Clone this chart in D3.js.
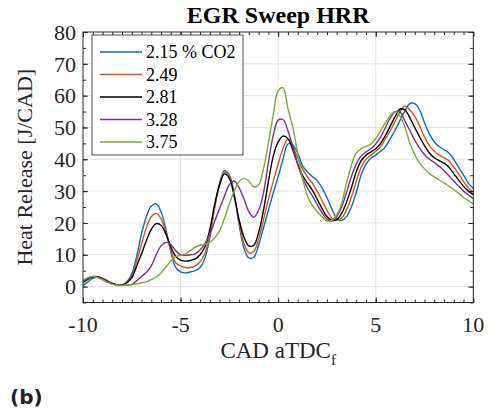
<!DOCTYPE html>
<html>
<head>
<meta charset="utf-8">
<script src="https://cdn.jsdelivr.net/npm/d3@7"></script>
<style>
	body { margin: 0; background: #fff; }
	svg { display: block; }
</style>
</head>
<body>
<div id="chart"></div>
<script>

// crank angle grid (CAD aTDC)
var cad = [-10, -9.75, -9.5, -9.25, -9, -8.75, -8.5, -8.25, -8, -7.75,
	-7.5, -7.25, -7, -6.75, -6.5, -6.25, -6, -5.75, -5.5, -5.25,
	-5, -4.75, -4.5, -4.25, -4, -3.75, -3.5, -3.25, -3, -2.75,
	-2.5, -2.25, -2, -1.75, -1.5, -1.25, -1, -0.75, -0.5, -0.25,
	0, 0.25, 0.5, 0.75, 1, 1.25, 1.5, 1.75, 2, 2.25,
	2.5, 2.75, 3, 3.25, 3.5, 3.75, 4, 4.25, 4.5, 4.75,
	5, 5.25, 5.5, 5.75, 6, 6.25, 6.5, 6.75, 7, 7.25,
	7.5, 7.75, 8, 8.25, 8.5, 8.75, 9, 9.25, 9.5, 9.75, 10];

var labels = ["2.15 % CO2", "2.49", "2.81", "3.28", "3.75"];
var colors = ["#0072BD", "#D95319", "#000000", "#7E2F8E", "#77AC30"];

// heat release rate [J/CAD]
var hrr215 = [0.3, 1.5, 2.6, 2.9, 2.6, 1.8, 0.9, 0.4, 0.4, 1.5,
	4, 9.5, 16.6, 22, 25.3, 26, 23.5, 18, 11, 6,
	4.6, 4.3, 4.6, 5, 6, 9, 15.5, 25, 32.5, 36.4,
	35, 29, 19.5, 12, 9, 9.2, 13, 18.5, 24, 29.5,
	34.5, 40, 44.8, 44.5, 42, 38, 36, 34.6, 33.3, 31,
	28, 24.5, 21.5, 20.8, 22, 25, 29.5, 35, 38.5, 40.3,
	41.3, 42.5, 44, 46.5, 49.2, 52.3, 55.3, 57.5, 57.5, 55.5,
	51.5, 48, 45.5, 44, 43, 42, 40, 37.5, 35, 32.5, 30.8];
var hrr249 = [1.2, 2.2, 3, 3.1, 2.6, 1.8, 1, 0.5, 0.5, 1.3,
	3.2, 8, 13.4, 18.5, 22, 23, 21.3, 17, 11.5, 7.5,
	6.5, 6, 6, 6.5, 7.8, 10.5, 16, 25, 32, 36,
	34.5, 28.5, 20, 13.5, 10.6, 11, 15, 21, 27.5, 33,
	38.5, 43.5, 46.4, 44, 40.5, 37, 34.5, 32.5, 30, 27,
	24, 21.5, 20.8, 21.5, 24, 28, 33, 37.5, 40, 41.3,
	42.5, 44, 46.5, 49, 52, 55, 56.8, 55.5, 53.5, 50.5,
	47, 44.3, 42.5, 41.3, 40.5, 39.5, 37.5, 35.5, 33, 31, 29.7];
var hrr281 = [1.4, 2.4, 3.1, 3.1, 2.5, 1.7, 1, 0.5, 0.5, 1.2,
	2.8, 6.5, 10.3, 14.5, 18, 19.8, 19.3, 16.5, 12.5, 9.5,
	8.3, 8, 8.2, 8.7, 10, 12.5, 18, 26, 32, 35.4,
	34, 28.5, 21, 15.5, 12.8, 13, 17, 24, 33, 41,
	45.5, 47.3, 46.5, 43, 38.5, 35, 32.5, 30.3, 27.5, 24.5,
	22, 20.8, 21, 23, 26.5, 31, 36, 39.5, 41.3, 42.3,
	43.3, 45, 47.5, 50.5, 53.5, 55.8, 55.5, 53, 50, 47,
	44.3, 42, 40.5, 39.6, 38.8, 37.5, 35.5, 33.5, 31.5, 30, 28.9];
var hrr328 = [1.8, 2.6, 3.2, 3, 2.4, 1.6, 0.9, 0.5, 0.4, 0.4,
	0.7, 1.8, 3.2, 4.5, 6.5, 10, 12.8, 13.9, 13.2, 11.3,
	10, 9.8, 10, 10.3, 11.5, 13.5, 16.5, 20.5, 24.5, 28.5,
	32, 33.2, 31, 27.5, 23.5, 21.8, 24, 29.5, 39, 47.5,
	52.3, 52.5, 49, 44, 38.5, 34, 31, 28.5, 25.8, 23.2,
	21.2, 20.6, 22, 25, 29.5, 34.5, 38.5, 41, 42.3, 43.3,
	44.8, 47, 50, 53, 55, 54.8, 52, 49, 46, 43.5,
	41.5, 40, 39, 37.8, 36.5, 34.8, 33.2, 31.5, 30, 28.8, 27.6];
var hrr375 = [2, 2.8, 3.2, 2.8, 2.1, 1.3, 0.7, 0.4, 0.4, 0.5,
	0.6, 0.8, 1.2, 1.5, 2.2, 3, 4.3, 6.2, 8, 9.4,
	9.8, 10.3, 11.3, 12.4, 13, 13.3, 14, 15.3, 17.5, 21.5,
	26, 30, 33, 34, 33.2, 31.3, 32, 37, 45, 54,
	61.5, 62.5, 56, 50, 42, 34, 28.5, 25.5, 23.5, 22,
	20.6, 20.8, 22.5, 26, 32.5, 38, 42, 43.3, 44, 44.8,
	46.5, 49, 51.5, 53.8, 55, 53.5, 50, 45, 41.5, 38.8,
	37, 35.5, 34.5, 33.5, 32.6, 31.5, 30.5, 29.3, 28, 27, 26];

var series = [hrr215, hrr249, hrr281, hrr328, hrr375];

var xTicks = [-10, -5, 0, 5, 10];
var yTicks = [0, 10, 20, 30, 40, 50, 60, 70, 80];

var width = 494;
var height = 417;
var plotL = 83, plotR = 473.3, plotT = 32, plotB = 302.5;
var axisColor = "#262626";
var serif = "Liberation Serif, Times New Roman, serif";

var svg = d3.select("#chart").append("svg")
	.attr("width", width)
	.attr("height", height);

svg.append("rect")
	.attr("width", width)
	.attr("height", height)
	.attr("fill", "#fff");

var x = d3.scaleLinear().domain([-10, 10]).range([plotL, plotR]);
var y = d3.scaleLinear().domain([-5, 80]).range([plotB, plotT]);

// grid
svg.append("g").selectAll("line")
	.data(xTicks.slice(1, -1))
	.enter().append("line")
	.attr("x1", function(d) { return x(d); })
	.attr("x2", function(d) { return x(d); })
	.attr("y1", plotT).attr("y2", plotB)
	.attr("stroke", "#e3e3e3").attr("stroke-width", 1);

svg.append("g").selectAll("line")
	.data(yTicks.slice(0, -1))
	.enter().append("line")
	.attr("y1", function(d) { return y(d); })
	.attr("y2", function(d) { return y(d); })
	.attr("x1", plotL).attr("x2", plotR)
	.attr("stroke", "#e3e3e3").attr("stroke-width", 1);

// curves
var line = d3.line()
	.x(function(d, i) { return x(cad[i]); })
	.y(function(d) { return y(d); })
	.curve(d3.curveCatmullRom.alpha(0.5));

svg.append("g").selectAll("path")
	.data(series)
	.enter().append("path")
	.attr("d", line)
	.attr("fill", "none")
	.attr("stroke", function(d, i) { return colors[i]; })
	.attr("stroke-width", 1.4);

// axes with inward ticks, mirrored on top/right
var xMinor = d3.range(-10, 10.01, 0.5);
var yMinor = d3.range(-5, 80.01, 5);

function ticks(axis, values, size) {
	return axis.tickValues(values).tickSize(size).tickFormat("");
}

svg.append("g").attr("transform", "translate(0," + plotB + ")")
	.call(ticks(d3.axisTop(x), xMinor, 3));
svg.append("g").attr("transform", "translate(0," + plotB + ")")
	.call(ticks(d3.axisTop(x), xTicks, 5));
svg.append("g").attr("transform", "translate(0," + plotT + ")")
	.call(ticks(d3.axisBottom(x), xMinor, 3));
svg.append("g").attr("transform", "translate(0," + plotT + ")")
	.call(ticks(d3.axisBottom(x), xTicks, 5));
svg.append("g").attr("transform", "translate(" + plotL + ",0)")
	.call(ticks(d3.axisRight(y), yMinor, 3));
svg.append("g").attr("transform", "translate(" + plotL + ",0)")
	.call(ticks(d3.axisRight(y), yTicks, 5));
svg.append("g").attr("transform", "translate(" + plotR + ",0)")
	.call(ticks(d3.axisLeft(y), yMinor, 3));
svg.append("g").attr("transform", "translate(" + plotR + ",0)")
	.call(ticks(d3.axisLeft(y), yTicks, 5));

svg.selectAll(".domain").remove();
svg.selectAll(".tick line").attr("stroke", axisColor);

svg.append("rect")
	.attr("x", plotL).attr("y", plotT)
	.attr("width", plotR - plotL).attr("height", plotB - plotT)
	.attr("fill", "none")
	.attr("stroke", axisColor)
	.attr("stroke-width", 1);

// tick labels
svg.append("g").selectAll("text")
	.data(xTicks)
	.enter().append("text")
	.attr("x", function(d) { return x(d); })
	.attr("y", plotB + 29)
	.attr("text-anchor", "middle")
	.attr("font-family", serif)
	.attr("font-size", 22)
	.attr("fill", axisColor)
	.text(function(d) { return d; });

svg.append("g").selectAll("text")
	.data(yTicks)
	.enter().append("text")
	.attr("x", plotL - 7)
	.attr("y", function(d) { return y(d); })
	.attr("dy", "0.35em")
	.attr("text-anchor", "end")
	.attr("font-family", serif)
	.attr("font-size", 22)
	.attr("fill", axisColor)
	.text(function(d) { return d; });

// axis labels and title
var xl = svg.append("text")
	.attr("x", (plotL + plotR) / 2)
	.attr("y", 358)
	.attr("text-anchor", "middle")
	.attr("font-family", serif)
	.attr("font-size", 23)
	.attr("fill", axisColor);
xl.append("tspan").text("CAD aTDC");
xl.append("tspan").attr("font-size", 15).attr("dy", 7).text("f");

svg.append("text")
	.attr("transform", "translate(32," + ((plotT + plotB) / 2) + ") rotate(-90)")
	.attr("text-anchor", "middle")
	.attr("font-family", serif)
	.attr("font-size", 22)
	.attr("fill", axisColor)
	.text("Heat Release [J/CAD]");

svg.append("text")
	.attr("x", (plotL + plotR) / 2)
	.attr("y", 22.5)
	.attr("text-anchor", "middle")
	.attr("font-family", serif)
	.attr("font-size", 24)
	.attr("font-weight", "bold")
	.attr("fill", "#000")
	.text("EGR Sweep HRR");

svg.append("text")
	.attr("x", 10)
	.attr("y", 404)
	.attr("font-family", "DejaVu Sans, sans-serif")
	.attr("font-size", 20)
	.attr("font-weight", "bold")
	.attr("fill", "#222")
	.text("(b)");

// legend
var lg = svg.append("g");
lg.append("rect")
	.attr("x", 92).attr("y", 35)
	.attr("width", 151).attr("height", 120)
	.attr("fill", "#fff")
	.attr("stroke", axisColor)
	.attr("stroke-width", 0.8);

var rows = lg.selectAll("g.row")
	.data(labels)
	.enter().append("g")
	.attr("class", "row")
	.attr("transform", function(d, i) { return "translate(0," + (52 + i * 22.5) + ")"; });

rows.append("line")
	.attr("x1", 100).attr("x2", 142)
	.attr("stroke", function(d, i) { return colors[i]; })
	.attr("stroke-width", 1.4);

rows.append("text")
	.attr("x", 146)
	.attr("dy", "0.35em")
	.attr("font-family", serif)
	.attr("font-size", 18)
	.attr("fill", "#000")
	.text(function(d) { return d; });

</script>
</body>
</html>
